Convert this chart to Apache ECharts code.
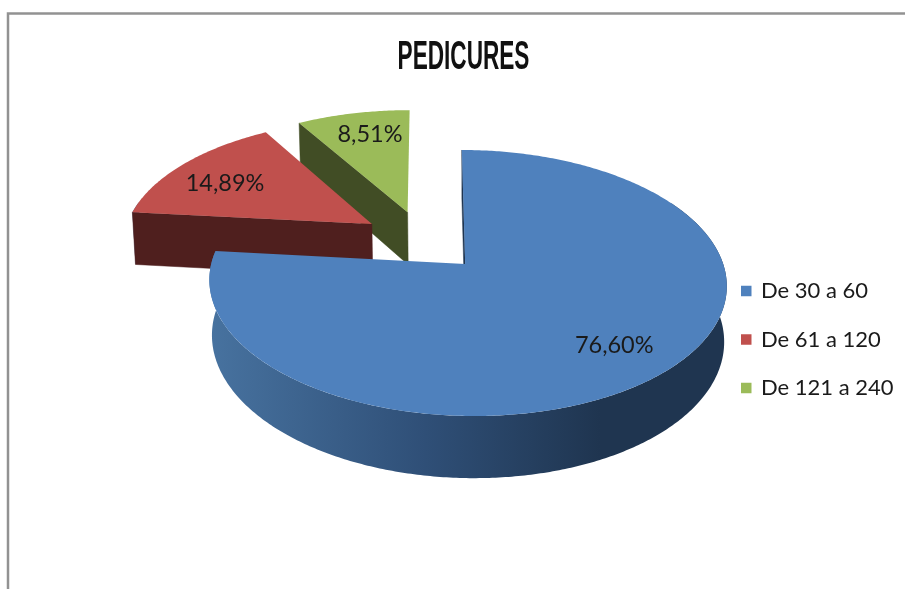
<!DOCTYPE html>
<html>
<head>
<meta charset="utf-8">
<style>html,body{margin:0;padding:0;background:#fff}#c{width:905px;height:589px}</style>
<script src="https://cdn.jsdelivr.net/npm/echarts@6/dist/echarts.min.js"></script>
</head>
<body>
<div id="c"></div>
<script>
// ---- data ----
const chartTitle = 'PEDICURES';
const categories = ['De 30 a 60', 'De 61 a 120', 'De 121 a 240'];
const percentages = [76.60, 14.89, 8.51];

// ---- styling and layout ----
const faceColors = ['#4f81bd', '#c0504d', '#9bbb59'];
const wallColors = ['#1f3550', '#4f1f1e', '#414d25'];
const explode = [[0.0027, 0], [-0.379, 0.321], [-0.234, 0.42]];
const apexNudge = [-2, 0, 0];
const labelFraction = [0.8, 0.75, 0.8];
const labelShift = [[-7, -3], [-3, 5], [7, 3]];
const drawOrder = [10, 5, 2];
const VIEW = {cx: 466.5, cy: 264, rx: 256, ry: 130.3, persp: 1 / 7, skew: -6, depth: 55.4, shrink: 0.01};
const WALL_FROM = Math.PI / 3, WALL_TO = 1.56 * Math.PI;
const LABEL_FONT = '23.5px Lato, sans-serif';

// Oblique perspective projection of a point on the pie disc (t=0 top face, t=1 bottom face)
function project(X, Z, t) {
  const w = 1 + VIEW.persp * Z + VIEW.shrink * t;
  return [
    VIEW.cx + (VIEW.rx * X + VIEW.skew * Z) / w,
    VIEW.cy + (-VIEW.ry * Z + VIEW.depth * t) / w
  ];
}
const total = percentages.reduce((a, b) => a + b, 0);
const startAngles = percentages.map((_, i) =>
  percentages.slice(0, i).reduce((a, b) => a + b, 0) / total * 2 * Math.PI);

function arc(i, a0, a1, t) {
  const [ox, oz] = explode[i];
  const n = Math.max(2, Math.ceil((a1 - a0) * 90));
  const pts = [];
  for (let k = 0; k <= n; k++) {
    const a = a0 + (a1 - a0) * k / n;
    pts.push(project(ox + Math.sin(a), oz + Math.cos(a), t));
  }
  return pts;
}

function makeRenderItem(i) {
  return function (params, api) {
    const a0 = startAngles[i];
    const a1 = a0 + api.value(0) / total * 2 * Math.PI;
    const [ox, oz] = explode[i];
    const apexTop = project(ox, oz, 0), apexBottom = project(ox, oz, 1);
    apexTop[0] += apexNudge[i];
    apexBottom[0] += apexNudge[i];
    const arcTop = arc(i, a0, a1, 0), arcBottom = arc(i, a0, a1, 1);
    const children = [];
    // Only the part of the rim that faces the viewer is drawn
    const w0 = Math.max(a0, WALL_FROM), w1 = Math.min(a1, WALL_TO);
    if (w1 > w0) {
      children.push({type: 'polygon', shape: {points: arc(i, w0, w1, 0).concat(arc(i, w0, w1, 1).reverse())},
        style: {fill: new echarts.graphic.LinearGradient(212, 0, 600, 0, [
          {offset: 0, color: '#47729f'},
          {offset: 0.55, color: '#2f4f77'},
          {offset: 1, color: wallColors[i]}
        ], true)}});
    }
    const mid = (a0 + a1) / 2, f = labelFraction[i];
    const lp = project(ox + f * Math.sin(mid), oz + f * Math.cos(mid), 0);
    children.push(
      {type: 'polygon', shape: {points: [apexTop, arcTop[0], arcBottom[0], apexBottom]},
       style: {fill: wallColors[i], stroke: wallColors[i], lineWidth: 0.5}},
      {type: 'polygon', shape: {points: [apexTop].concat(arcTop)},
       style: {fill: faceColors[i]}},
      {type: 'text', style: {
        text: api.value(0).toFixed(2).replace('.', ',') + '%',
        x: lp[0] + labelShift[i][0], y: lp[1] + labelShift[i][1],
        align: 'center', verticalAlign: 'middle',
        font: LABEL_FONT, fill: '#1a1a1a'}}
    );
    return {type: 'group', children};
  };
}

const chart = echarts.init(document.getElementById('c'), null, {renderer: 'canvas'});
chart.setOption({
  animation: false,
  backgroundColor: '#fff',
  legend: {
    data: categories, orient: 'vertical', left: 741, top: 280, padding: 0,
    icon: 'rect', itemWidth: 10.5, itemHeight: 10.5, itemGap: 26.5,
    selectedMode: false,
    textStyle: {fontFamily: 'Lato, sans-serif', fontSize: 22, color: '#1a1a1a', padding: [0, 0, 0, 4.5]}
  },
  graphic: [
    {type: 'polyline', silent: true, z: 0,
     shape: {points: [[8, 589], [8, 13.5], [905, 13.5]]},
     style: {stroke: '#929292', lineWidth: 2.5, fill: null}},
    {type: 'text', silent: true, z: 20, x: 463.5, y: 58, scaleX: 0.565, originX: 0, originY: 0,
     style: {text: chartTitle, align: 'center', verticalAlign: 'middle',
       font: 'bold 40px "Liberation Sans Narrow", sans-serif', fill: '#111'}}
  ],
  series: categories.map((name, i) => ({
    type: 'custom', name: name, coordinateSystem: 'none', z: drawOrder[i],
    itemStyle: {color: faceColors[i]},
    renderItem: makeRenderItem(i),
    data: [[percentages[i]]]
  }))
});
</script>
</body>
</html>
